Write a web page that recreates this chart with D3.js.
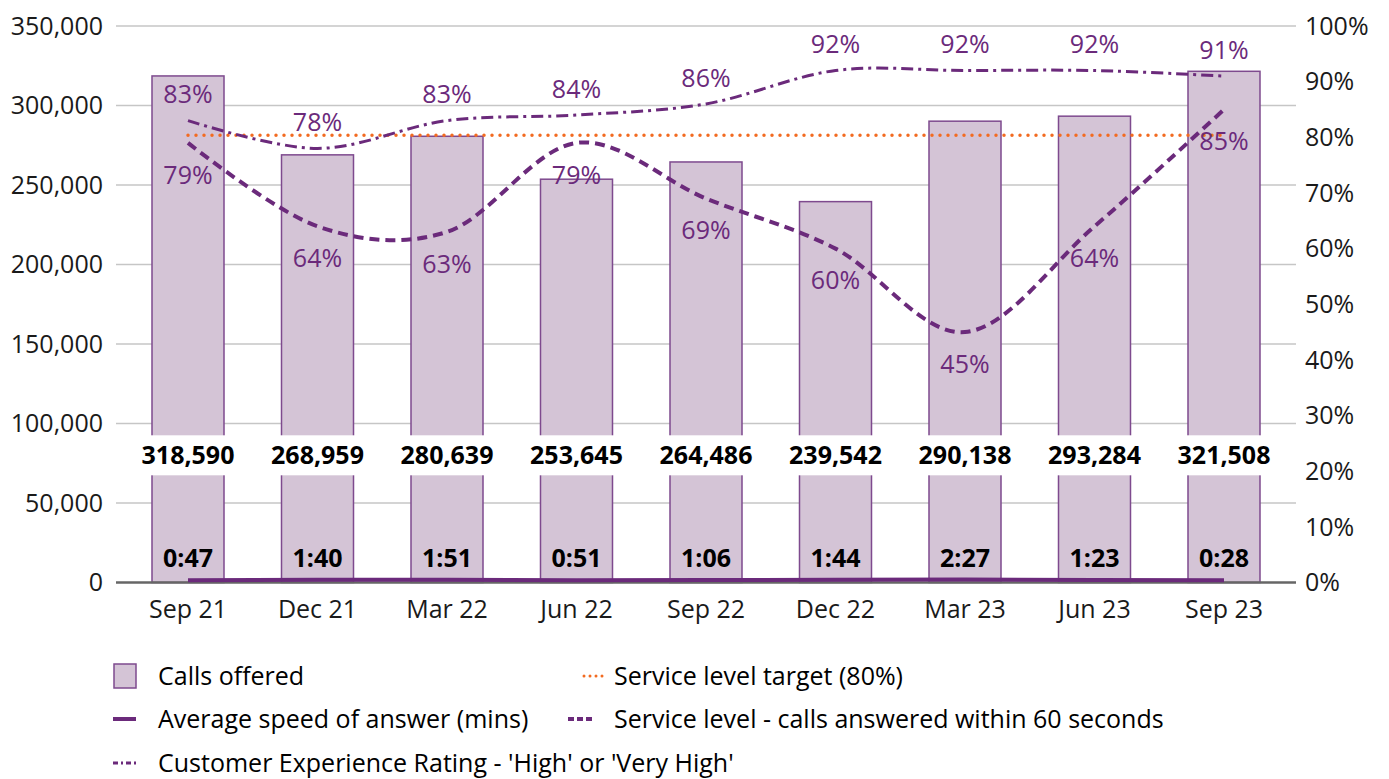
<!DOCTYPE html>
<html>
<head>
<meta charset="utf-8">
<script src="https://cdn.jsdelivr.net/npm/d3@7"></script>
<style>
  body { margin: 0; background: #fff; }
  text { font-family: "Open Sans", "Noto Sans", sans-serif; }
</style>
</head>
<body>
<div id="chart"></div>
<script>
const width = 1389;
const height = 779;

const quarters = ["Sep 21", "Dec 21", "Mar 22", "Jun 22", "Sep 22", "Dec 22", "Mar 23", "Jun 23", "Sep 23"];
const callsOffered = [318590, 268959, 280639, 253645, 264486, 239542, 290138, 293284, 321508];
// average speed of answer, in seconds
const asaSeconds = [47, 100, 111, 51, 66, 104, 147, 83, 28];
const serviceLevel = [0.79, 0.64, 0.63, 0.79, 0.69, 0.60, 0.45, 0.64, 0.85];
const cxRating = [0.83, 0.78, 0.83, 0.84, 0.86, 0.92, 0.92, 0.92, 0.91];
const slTarget = 0.8;
const leftTicks = [0, 50000, 100000, 150000, 200000, 250000, 300000, 350000];
const rightTicks = [0, 0.1, 0.2, 0.3, 0.4, 0.5, 0.6, 0.7, 0.8, 0.9, 1];

const purple = "#6b2a7b";
const barFill = "#d4c4d6";
const barStroke = "#7e4a8e";
const orange = "#f26b21";

const plot = { left: 116, right: 1296, top: 26, bottom: 582.5 };

const svg = d3.select("#chart")
    .append("svg")
    .attr("width", width)
    .attr("height", height);

const x = d3.scaleBand()
    .domain(quarters)
    .range([plot.left, plot.right])
    .paddingInner(0.444)
    .paddingOuter(0.278);

const yL = d3.scaleLinear().domain([0, 350000]).range([plot.bottom, plot.top]);
const yR = d3.scaleLinear().domain([0, 1]).range([plot.bottom, plot.top]);
const cx = d => x(d) + x.bandwidth() / 2;

// gridlines
svg.append("g")
    .selectAll("line")
    .data(leftTicks.filter(d => d > 0))
    .join("line")
    .attr("x1", plot.left)
    .attr("x2", plot.right)
    .attr("y1", d => yL(d))
    .attr("y2", d => yL(d))
    .attr("stroke", "#c6c6c6")
    .attr("stroke-width", 1.5);

// left axis labels
const fmt = d3.format(",");
svg.append("g")
    .selectAll("text")
    .data(leftTicks)
    .join("text")
    .attr("x", 103)
    .attr("y", d => yL(d))
    .attr("dy", "0.35em")
    .attr("text-anchor", "end")
    .attr("font-size", 25)
    .attr("fill", "#1a1a1a")
    .text(d => fmt(d));

// right axis labels
svg.append("g")
    .selectAll("text")
    .data(rightTicks)
    .join("text")
    .attr("x", 1305)
    .attr("y", d => yR(d))
    .attr("dy", "0.35em")
    .attr("font-size", 25)
    .attr("fill", "#1a1a1a")
    .text(d => Math.round(d * 100) + "%");

// bars
svg.append("g")
    .selectAll("rect")
    .data(callsOffered)
    .join("rect")
    .attr("x", (d, i) => x(quarters[i]))
    .attr("y", d => yL(d))
    .attr("width", x.bandwidth())
    .attr("height", d => yL(0) - yL(d))
    .attr("fill", barFill)
    .attr("stroke", barStroke)
    .attr("stroke-width", 1.5);

// x axis baseline
svg.append("line")
    .attr("x1", plot.left)
    .attr("x2", plot.right)
    .attr("y1", yL(0))
    .attr("y2", yL(0))
    .attr("stroke", "#666")
    .attr("stroke-width", 2.5);

// x axis labels
svg.append("g")
    .selectAll("text")
    .data(quarters)
    .join("text")
    .attr("x", d => cx(d))
    .attr("y", 609)
    .attr("dy", "0.35em")
    .attr("text-anchor", "middle")
    .attr("font-size", 25)
    .attr("fill", "#1a1a1a")
    .text(d => d);

// service level target
svg.append("line")
    .attr("x1", cx(quarters[0]))
    .attr("x2", cx(quarters[quarters.length - 1]))
    .attr("y1", yR(slTarget) - 2)
    .attr("y2", yR(slTarget) - 2)
    .attr("stroke", orange)
    .attr("stroke-width", 3.5)
    .attr("stroke-linecap", "round")
    .attr("stroke-dasharray", "0,8");

const smooth = d3.line()
    .x((d, i) => cx(quarters[i]))
    .y(d => yR(d))
    .curve(d3.curveCardinal.tension(0));

// average speed of answer (plotted as fraction of a day)
svg.append("path")
    .datum(asaSeconds.map(s => s / 86400))
    .attr("d", d3.line().x((d, i) => cx(quarters[i])).y(d => yR(d) - 2))
    .attr("fill", "none")
    .attr("stroke", purple)
    .attr("stroke-width", 4);

// service level
svg.append("path")
    .datum(serviceLevel)
    .attr("d", smooth)
    .attr("fill", "none")
    .attr("stroke", purple)
    .attr("stroke-width", 4)
    .attr("stroke-dasharray", "10,6");

// customer experience rating
svg.append("path")
    .datum(cxRating)
    .attr("d", smooth)
    .attr("fill", "none")
    .attr("stroke", purple)
    .attr("stroke-width", 3)
    .attr("stroke-dasharray", "12,5,3,5");

// percentage labels
svg.append("g")
    .selectAll("text")
    .data(serviceLevel)
    .join("text")
    .attr("x", (d, i) => cx(quarters[i]))
    .attr("y", d => yR(d) + 32)
    .attr("dy", "0.35em")
    .attr("text-anchor", "middle")
    .attr("font-size", 25)
    .attr("fill", purple)
    .text(d => Math.round(d * 100) + "%");

svg.append("g")
    .selectAll("text")
    .data(cxRating)
    .join("text")
    .attr("x", (d, i) => cx(quarters[i]))
    .attr("y", d => yR(d) - 26)
    .attr("dy", "0.35em")
    .attr("text-anchor", "middle")
    .attr("font-size", 25)
    .attr("fill", purple)
    .text(d => Math.round(d * 100) + "%");

// calls offered value labels with white boxes
const valLabels = svg.append("g")
    .selectAll("g")
    .data(callsOffered)
    .join("g")
    .attr("transform", (d, i) => `translate(${cx(quarters[i])},${yL(80000)})`);

valLabels.append("rect")
    .attr("x", -54)
    .attr("y", -20)
    .attr("width", 108)
    .attr("height", 40)
    .attr("fill", "#fff");

valLabels.append("text")
    .attr("text-anchor", "middle")
    .attr("dy", "0.35em")
    .attr("font-size", 25)
    .attr("font-weight", "bold")
    .attr("fill", "#000")
    .text(d => fmt(d));

// asa labels
const mmss = s => Math.floor(s / 60) + ":" + String(s % 60).padStart(2, "0");
svg.append("g")
    .selectAll("text")
    .data(asaSeconds)
    .join("text")
    .attr("x", (d, i) => cx(quarters[i]))
    .attr("y", yL(15000))
    .attr("dy", "0.35em")
    .attr("text-anchor", "middle")
    .attr("font-size", 25)
    .attr("font-weight", "bold")
    .attr("fill", "#000")
    .text(d => mmss(d));

// legend
const legend = svg.append("g").attr("font-size", 25);

const item = (lx, ly, label) => {
    legend.append("text")
        .attr("x", lx + 45)
        .attr("y", ly)
        .attr("dy", "0.35em")
        .attr("fill", "#000")
        .text(label);
};

legend.append("rect")
    .attr("x", 114).attr("y", 664)
    .attr("width", 22).attr("height", 24)
    .attr("fill", barFill).attr("stroke", barStroke).attr("stroke-width", 1.5);
item(113, 676, "Calls offered");

legend.append("line")
    .attr("x1", 584).attr("x2", 603).attr("y1", 676).attr("y2", 676)
    .attr("stroke", orange).attr("stroke-width", 3)
    .attr("stroke-linecap", "round").attr("stroke-dasharray", "0,6");
item(569, 676, "Service level target (80%)");

legend.append("line")
    .attr("x1", 113).attr("x2", 136).attr("y1", 719).attr("y2", 719)
    .attr("stroke", purple).attr("stroke-width", 4);
item(113, 719, "Average speed of answer (mins)");

legend.append("line")
    .attr("x1", 568).attr("x2", 592).attr("y1", 719).attr("y2", 719)
    .attr("stroke", purple).attr("stroke-width", 4).attr("stroke-dasharray", "6,3");
item(569, 719, "Service level - calls answered within 60 seconds");

legend.append("line")
    .attr("x1", 113).attr("x2", 136).attr("y1", 763).attr("y2", 763)
    .attr("stroke", purple).attr("stroke-width", 3).attr("stroke-dasharray", "5,3,2,3");
item(113, 763, "Customer Experience Rating - 'High' or 'Very High'");
</script>
</body>
</html>
